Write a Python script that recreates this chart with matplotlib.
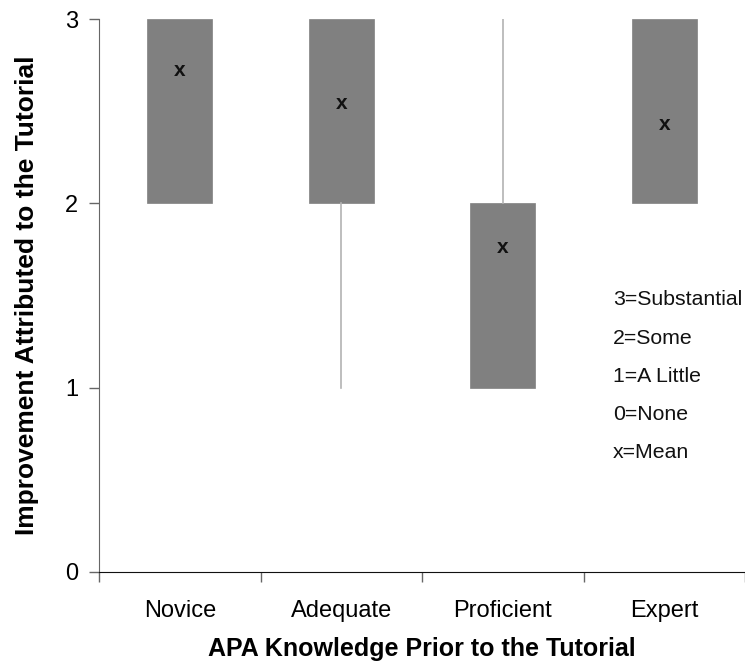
import matplotlib
matplotlib.use('Agg')
import matplotlib.pyplot as plt

plt.rcParams['font.family'] = ['Liberation Sans', 'DejaVu Sans']

# data
categories = ['Novice', 'Adequate', 'Proficient', 'Expert']
q1 = [2, 2, 1, 2]
q3 = [3, 3, 2, 3]
median = [3, 3, 2, 3]
whisker_low = [2, 1, 1, 2]
whisker_high = [3, 3, 3, 3]
means = [2.72, 2.54, 1.76, 2.43]
scale_notes = ['3=Substantial', '2=Some', '1=A Little', '0=None', 'x=Mean']

positions = [i + 0.5 for i in range(len(categories))]

stats = []
for i, name in enumerate(categories):
    stats.append({
        'label': name,
        'q1': q1[i], 'q3': q3[i], 'med': median[i],
        'whislo': whisker_low[i], 'whishi': whisker_high[i],
        'fliers': [],
    })

fig = plt.figure(figsize=(7.45, 6.63), dpi=100)
ax = fig.add_axes([99 / 745, 1 - 572 / 663, 646 / 745, 553 / 663])

ax.bxp(stats, positions=positions, widths=0.4, patch_artist=True,
       showcaps=False, showfliers=False,
       boxprops=dict(facecolor='#808080', edgecolor='#808080', linewidth=0.5),
       whiskerprops=dict(color='#b3b3b3', linewidth=1.2),
       medianprops=dict(linewidth=0), zorder=2)

for x, m in zip(positions, means):
    ax.text(x, m, 'x', ha='center', va='center', fontsize=15,
            fontweight='bold', color='#111111', zorder=3)

ax.set_xlim(0, 4)
ax.set_ylim(0, 3)

ax.spines['top'].set_visible(False)
ax.spines['right'].set_visible(False)
ax.spines['left'].set_color('#666666')
ax.spines['bottom'].set_color('#111111')

ax.set_yticks([0, 1, 2, 3])
ax.tick_params(axis='y', direction='out', length=7, width=1, color='#666666',
               labelsize=17, pad=8)

ax.set_xticks([0, 1, 2, 3, 4])
ax.set_xticklabels([])
ax.set_xticks(positions, minor=True)
ax.set_xticklabels(categories, minor=True)
ax.tick_params(axis='x', which='major', direction='out', length=7, width=1,
               color='#666666')
ax.tick_params(axis='x', which='minor', length=0, labelsize=17, pad=20)

ax.set_xlabel('APA Knowledge Prior to the Tutorial', fontsize=18,
              fontweight='bold', labelpad=11)
ax.set_ylabel('Improvement Attributed to the Tutorial', fontsize=19,
              fontweight='bold', labelpad=19)

for k, note in enumerate(scale_notes):
    fig.text(613 / 745, 1 - (300 + k * 38) / 663, note, fontsize=15.3,
             ha='left', va='center', color='#111111')

fig.savefig('out.png', dpi=100)
